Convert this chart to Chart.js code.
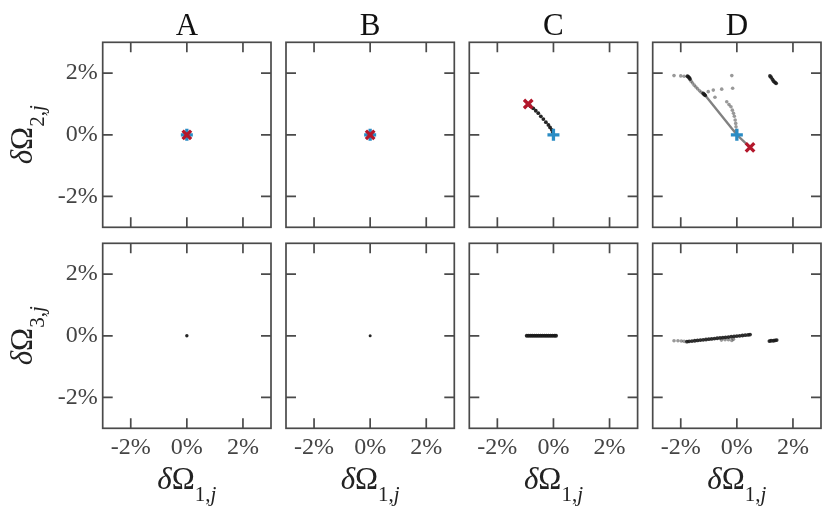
<!DOCTYPE html>
<html>
<head>
<meta charset="utf-8">
<script src="https://cdn.jsdelivr.net/npm/chart.js@4"></script>
<style>
  body { margin: 0; background: #fff; }
  #wrap { position: relative; width: 831px; height: 513px; }
  #wrap canvas { position: absolute; left: 0; top: 0; }
</style>
</head>
<body>
<div id="wrap"></div>
<script>
// Titel kolom dan tick
const panelTitles = ["A", "B", "C", "D"];
const tickValues = [-2, 0, 2];
const axisMin = -3;
const axisMax = 3;

// Baris atas: dOmega2 vs dOmega1  (titik awal = biru +, titik akhir = merah x)
const startTopA = [[0, 0]];
const endTopA = [[0, 0]];
const startTopB = [[0, 0]];
const endTopB = [[0, 0]];
const startTopC = [[0, 0]];
const endTopC = [[-0.9, 1.0]];
const trailTopC = [[-0.82, 0.93], [-0.72, 0.86], [-0.63, 0.78], [-0.54, 0.70], [-0.45, 0.60], [-0.36, 0.51],
    [-0.27, 0.41], [-0.18, 0.32], [-0.12, 0.24], [-0.06, 0.16], [-0.02, 0.08]];
const startTopD = [[0, 0]];
const endTopD = [[0.47, -0.41]];
const trailTopD = [[-1.76, 1.90], [-1.73, 1.88], [-1.70, 1.85], [-1.67, 1.81], [-1.20, 1.34], [-1.16, 1.31], [-1.13, 1.28],
    [1.18, 1.91], [1.22, 1.87], [1.27, 1.80], [1.31, 1.74], [1.36, 1.70], [1.40, 1.67]];
const greyTopD = [[-2.24, 1.92], [-2.0, 1.91], [-1.88, 1.90], [-0.18, 1.92],
    [-1.63, 1.74], [-1.58, 1.68], [-1.52, 1.61], [-1.46, 1.55], [-1.40, 1.49], [-1.33, 1.43], [-1.27, 1.38],
    [-1.02, 1.40], [-0.84, 1.45], [-0.54, 1.48], [-0.15, 1.51],
    [-0.78, 1.22], [-0.36, 1.07], [-0.28, 0.98], [-0.21, 0.91], [-0.16, 0.80], [-0.12, 0.70],
    [-0.09, 0.60], [-0.06, 0.48], [-0.04, 0.37], [-0.03, 0.26], [-0.02, 0.15]];
const pathTopD = [[-1.13, 1.28], [0, 0], [0.47, -0.41]];

// Baris bawah: dOmega3 vs dOmega1
const trailBottomA = [[0, 0]];
const trailBottomB = [[0, 0]];
const trailBottomC = [[-0.95, 0], [-0.88, 0], [-0.81, 0], [-0.74, 0], [-0.67, 0], [-0.60, 0], [-0.53, 0], [-0.46, 0],
    [-0.39, 0], [-0.32, 0], [-0.25, 0], [-0.18, 0], [-0.11, 0], [-0.04, 0], [0.03, 0], [0.09, 0]];
const trailBottomD = [[-1.78, -0.19], [-1.70, -0.18], [-1.60, -0.17], [-1.50, -0.16], [-1.40, -0.15], [-1.30, -0.14],
    [-1.20, -0.13], [-1.10, -0.12], [-1.00, -0.11], [-0.90, -0.10], [-0.80, -0.09], [-0.70, -0.08], [-0.60, -0.07],
    [-0.50, -0.06], [-0.40, -0.05], [-0.30, -0.04], [-0.20, -0.03], [-0.10, -0.02], [0.00, -0.01], [0.10, 0.00],
    [0.20, 0.01], [0.30, 0.02], [0.40, 0.03], [0.47, 0.04],
    [1.16, -0.17], [1.22, -0.16], [1.30, -0.16], [1.36, -0.15], [1.42, -0.14]];
const greyBottomD = [[-2.24, -0.16], [-2.10, -0.16], [-1.98, -0.17], [-1.88, -0.18],
    [-0.55, -0.14], [-0.42, -0.13], [-0.30, -0.13], [-0.18, -0.15], [-0.12, -0.11]];

// Posisi panel (px)
const panelLeft = [102.7, 286, 469.3, 652.7];
const panelTop = [42.3, 243.3];
const panelW = 168.3;
const panelH = 185;
const yLabelW = 80;   // ruang label tick sumbu y
const xLabelH = 45;   // ruang label tick sumbu x

const BLUE = "#2b8cc4";
const RED = "#b3172b";
const INK = "#444";
const SERIF = "'Liberation Serif', 'DejaVu Serif', serif";

const pts = arr => arr.map(p => ({ x: p[0], y: p[1] }));

function markerSet(data, style, color) {
    return { data: pts(data), pointStyle: style, pointRadius: 6, borderColor: color,
             backgroundColor: color, pointBorderWidth: 3.3, showLine: false };
}
function dotSet(data, color, r) {
    return { data: pts(data), pointRadius: r, backgroundColor: color, borderWidth: 0,
             pointBorderWidth: 0, showLine: false };
}
function lineSet(data) {
    return { data: pts(data), showLine: true, pointRadius: 0, borderColor: "rgba(115,115,115,0.9)",
             borderWidth: 2.4 };
}

const panels = [
    [ // baris atas
        [markerSet(endTopA, "crossRot", RED), markerSet(startTopA, "cross", BLUE)],
        [markerSet(endTopB, "crossRot", RED), markerSet(startTopB, "cross", BLUE)],
        [markerSet(endTopC, "crossRot", RED), markerSet(startTopC, "cross", BLUE), dotSet(trailTopC, "rgba(25,25,25,0.95)", 1.9)],
        [markerSet(endTopD, "crossRot", RED), markerSet(startTopD, "cross", BLUE), dotSet(trailTopD, "rgba(25,25,25,0.9)", 1.9),
         lineSet(pathTopD), dotSet(greyTopD, "rgba(70,70,70,0.55)", 1.8)]
    ],
    [ // baris bawah
        [dotSet(trailBottomA, "rgba(25,25,25,0.95)", 1.7)],
        [dotSet(trailBottomB, "rgba(25,25,25,0.95)", 1.5)],
        [dotSet(trailBottomC, "rgba(25,25,25,0.95)", 2.0)],
        [dotSet(trailBottomD, "rgba(25,25,25,0.9)", 1.9), dotSet(greyBottomD, "rgba(70,70,70,0.55)", 1.8)]
    ]
];

// Tulis teks matematika sederhana: dOmega_{n,j}
function drawSymbol(ctx, idx, cx, cy, rotate) {
    const big = 31, small = 21;
    const parts = [
        { t: "δ", f: "italic " + big + "px " + SERIF, dy: 0 },
        { t: "Ω", f: big + "px " + SERIF, dy: 0 },
        { t: idx + ",", f: small + "px " + SERIF, dy: 12 },
        { t: "j", f: "italic " + small + "px " + SERIF, dy: 12 }
    ];
    let total = 0;
    parts.forEach(p => { ctx.font = p.f; p.w = ctx.measureText(p.t).width; total += p.w; });
    ctx.save();
    ctx.translate(cx, cy);
    if (rotate) ctx.rotate(-Math.PI / 2);
    ctx.fillStyle = "#222";
    ctx.textBaseline = "alphabetic";
    ctx.textAlign = "left";
    let x = -total / 2;
    parts.forEach(p => { ctx.font = p.f; ctx.fillText(p.t, x, p.dy); x += p.w; });
    ctx.restore();
}

const framePlugin = {
    id: "frame",
    afterDraw(chart, args, opts) {
        const { ctx, chartArea: a, scales } = chart;
        const tl = 10;
        ctx.save();
        ctx.strokeStyle = "#4a4a4a";
        ctx.lineWidth = 1.7;
        ctx.strokeRect(a.left, a.top, a.right - a.left, a.bottom - a.top);
        ctx.beginPath();
        tickValues.forEach(v => {
            const px = scales.x.getPixelForValue(v);
            ctx.moveTo(px, a.top); ctx.lineTo(px, a.top + tl);
            ctx.moveTo(px, a.bottom); ctx.lineTo(px, a.bottom - tl);
            const py = scales.y.getPixelForValue(v);
            ctx.moveTo(a.left, py); ctx.lineTo(a.left + tl, py);
            ctx.moveTo(a.right, py); ctx.lineTo(a.right - tl, py);
        });
        ctx.stroke();
        if (opts.row === 0) {
            ctx.font = "31px " + SERIF;
            ctx.fillStyle = "#111";
            ctx.textAlign = "center";
            ctx.textBaseline = "alphabetic";
            ctx.fillText(panelTitles[opts.col], (a.left + a.right) / 2, 35);
        }
        if (opts.col === 0) {
            drawSymbol(ctx, opts.row === 0 ? 2 : 3, 32, scales.y.getPixelForValue(0), true);
        }
        if (opts.row === 1) {
            drawSymbol(ctx, 1, scales.x.getPixelForValue(0), 489, false);
        }
        ctx.restore();
    }
};

function axis(showLabels, horizontal) {
    const size = showLabels ? (horizontal ? xLabelH : yLabelW) : 0;
    return {
        type: "linear",
        min: axisMin,
        max: axisMax,
        grid: { display: false, drawTicks: false },
        border: { display: false },
        afterBuildTicks: s => { s.ticks = tickValues.map(v => ({ value: v })); },
        afterFit: s => { if (horizontal) s.height = size; else s.width = size; },
        ticks: {
            display: showLabels,
            padding: horizontal ? 5 : 5,
            color: INK,
            font: { family: SERIF, size: 24 },
            callback: v => v + "%"
        }
    };
}

function createPanel(row, col) {
    const canvas = document.createElement("canvas");
    canvas.width = 831;
    canvas.height = 513;
    document.getElementById("wrap").appendChild(canvas);
    const left = panelLeft[col], top = panelTop[row];
    const padL = left - (col === 0 ? yLabelW : 0);
    const padB = 513 - top - panelH - (row === 1 ? xLabelH : 0);
    return new Chart(canvas.getContext("2d"), {
        type: "scatter",
        data: { datasets: panels[row][col] },
        options: {
            responsive: false,
            animation: false,
            events: [],
            layout: { padding: { left: padL, top: top, right: 831 - left - panelW, bottom: padB } },
            scales: { x: axis(row === 1, true), y: axis(col === 0, false) },
            plugins: { legend: { display: false }, tooltip: { enabled: false }, frame: { row: row, col: col } }
        },
        plugins: [framePlugin]
    });
}

// Main
for (let r = 0; r < 2; r++) {
    for (let c = 0; c < 4; c++) createPanel(r, c);
}
</script>
</body>
</html>
